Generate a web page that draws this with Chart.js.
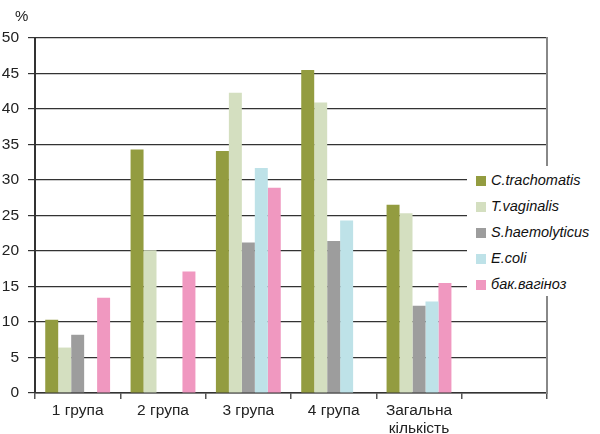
<!DOCTYPE html>
<html>
<head>
<meta charset="utf-8">
<script src="https://cdn.jsdelivr.net/npm/chart.js@4/dist/chart.umd.min.js"></script>
<style>
  body { margin: 0; background: #fff; }
  #wrap { position: relative; width: 600px; height: 434px; }
  #unit { position: absolute; left: 15px; top: 7px; font: 15px "Liberation Sans", Arial, sans-serif; color: #222; }
  #legend { position: absolute; left: 467px; top: 166px; width: 131px; height: 130px; background: #fff;
            font: italic 14.5px "Liberation Sans", Arial, sans-serif; color: #111; }
  #legend div { position: absolute; left: 9px; height: 16px; line-height: 16px; white-space: nowrap; }
  #legend span { display: inline-block; width: 10px; height: 10px; margin-right: 5px; vertical-align: -1px; }
</style>
</head>
<body>
<div id="wrap">
  <canvas id="chart" width="600" height="434"></canvas>
  <div id="unit">%</div>
  <div id="legend"></div>
</div>
<script>
// groups along the x axis, last one is left empty like in the source figure
var groups = ['1 група', '2 група', '3 група', '4 група', ['Загальна', 'кількість'], ''];
var seriesNames = ['C.trachomatis', 'T.vaginalis', 'S.haemolyticus', 'E.coli', 'бак.вагіноз'];
var seriesColors = ['#939c40', '#d4dfc0', '#9d9d9d', '#bee2e8', '#f098c0'];
var cTrachomatis = [10.3, 34.3, 34.1, 45.5, 26.5, null];
var tVaginalis = [6.4, 20.1, 42.3, 40.9, 25.3, null];
var sHaemolyticus = [8.2, null, 21.2, 21.4, 12.3, null];
var eColi = [null, null, 31.7, 24.3, 12.9, null];
var bakVaginoz = [13.4, 17.1, 28.9, null, 15.5, null];
var yTicks = [0, 5, 10, 15, 20, 25, 30, 35, 40, 45, 50];

var allSeries = [cTrachomatis, tVaginalis, sHaemolyticus, eColi, bakVaginoz];
var datasets = [];
for (var i = 0; i < allSeries.length; i++) {
  datasets.push({
    label: seriesNames[i],
    data: allSeries[i],
    backgroundColor: seriesColors[i],
    borderWidth: 0,
    categoryPercentage: 0.76,
    barPercentage: 1.0
  });
}

// legend drawn on top of the plot, as in the original
var legend = document.getElementById('legend');
for (var j = 0; j < seriesNames.length; j++) {
  var item = document.createElement('div');
  item.style.top = (6 + j * 26) + 'px';
  item.innerHTML = '<span style="background:' + seriesColors[j] + '"></span>' + seriesNames[j];
  legend.appendChild(item);
}

var font = { family: '"Liberation Sans", Arial, sans-serif', size: 15.5 };
new Chart(document.getElementById('chart').getContext('2d'), {
  type: 'bar',
  data: { labels: groups, datasets: datasets },
  options: {
    responsive: false,
    animation: false,
    layout: { padding: { top: 38, right: 53, left: 0, bottom: 0 } },
    plugins: { legend: { display: false }, tooltip: { enabled: false } },
    scales: {
      x: {
        grid: { offset: true, drawOnChartArea: false, drawTicks: true, tickLength: 6, color: '#555', lineWidth: 1.5 },
        border: { color: '#333', width: 1.5 },
        ticks: { font: font, color: '#222', padding: 2, maxRotation: 0, autoSkip: false },
        afterFit: function (s) { s.height = 41; }
      },
      y: {
        min: 0, max: 50,
        afterBuildTicks: function (s) { s.ticks = yTicks.map(function (v) { return { value: v }; }); },
        grid: { color: '#333', lineWidth: 1.2, tickLength: 7 },
        border: { color: '#333', width: 2 },
        ticks: { font: font, color: '#222', padding: 9 },
        afterFit: function (s) { s.width = 35; }
      },
      y2: {
        position: 'right',
        min: 0, max: 50,
        grid: { drawOnChartArea: false, drawTicks: false },
        border: { color: '#888', width: 2 },
        ticks: { display: false },
        afterFit: function (s) { s.width = 0; }
      }
    }
  }
});
</script>
</body>
</html>
